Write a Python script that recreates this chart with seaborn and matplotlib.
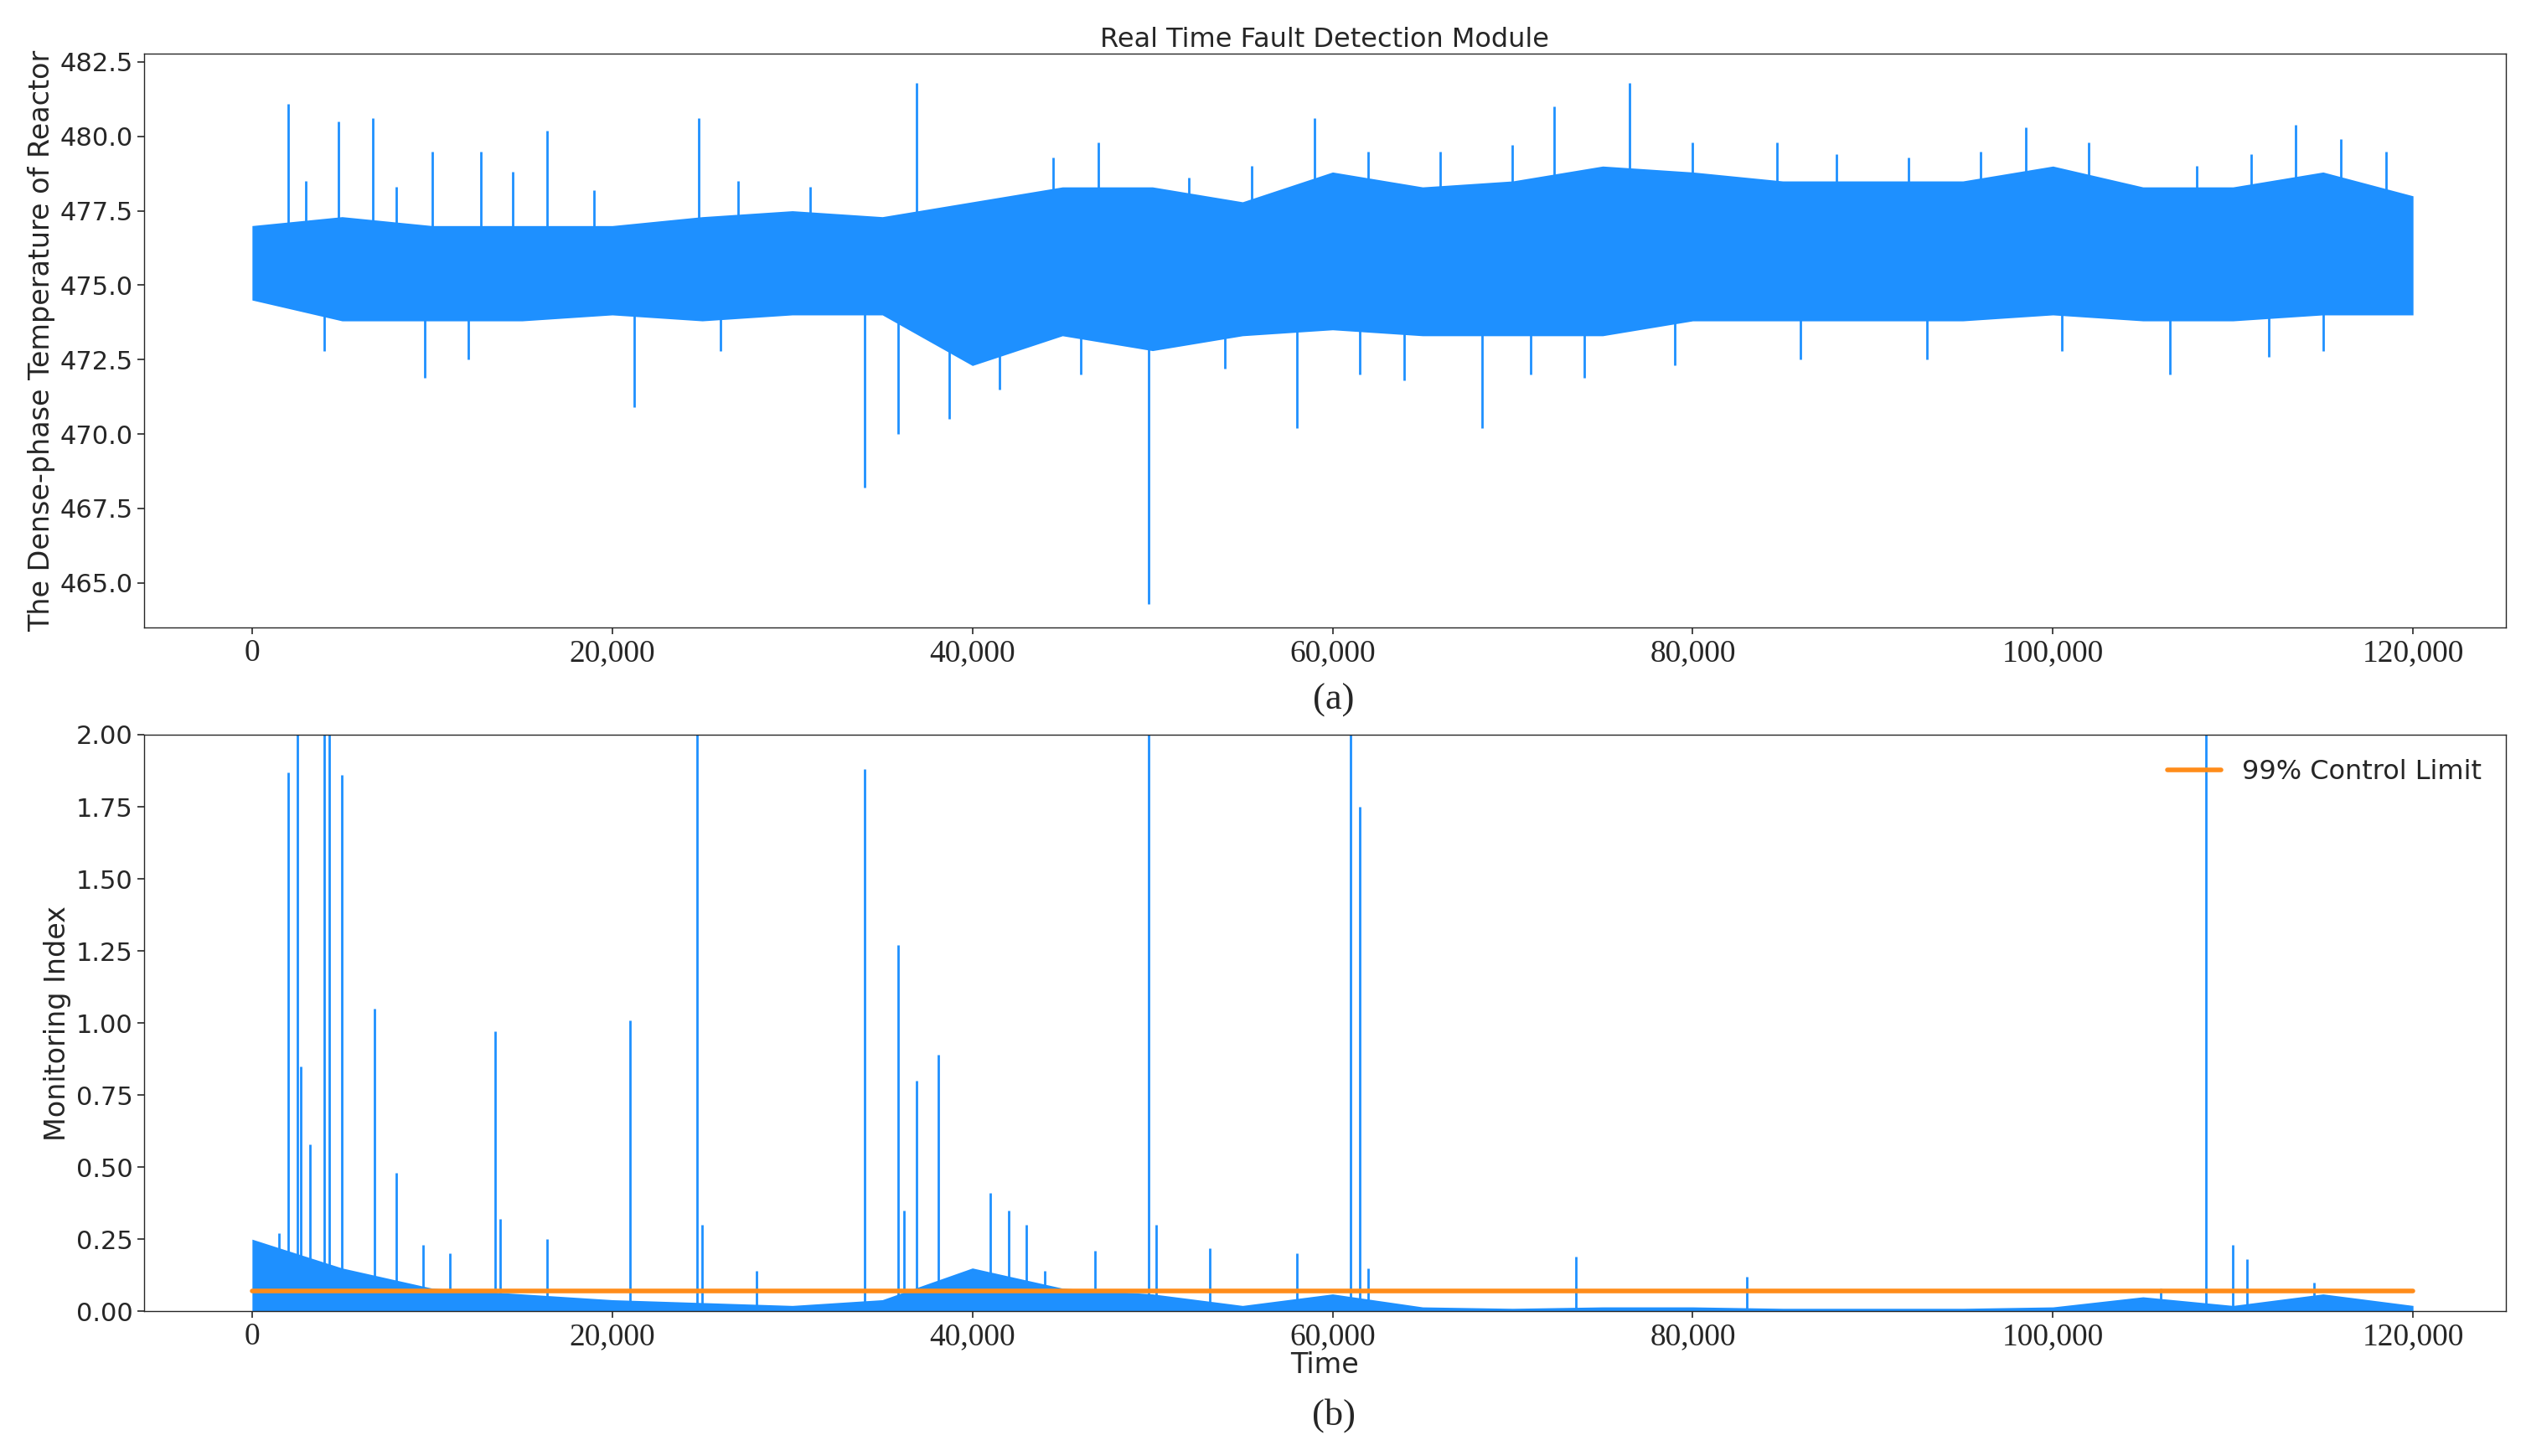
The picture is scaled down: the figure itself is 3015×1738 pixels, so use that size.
import numpy as np
import matplotlib
matplotlib.use("Agg")
import matplotlib.pyplot as plt
import seaborn as sns
from matplotlib.ticker import FuncFormatter

sns.set_style("ticks")
plt.rcParams['font.family'] = ['DejaVu Sans']

BLUE = "#1e90ff"
ORANGE = "#ff8c1a"

env_x = list(range(0, 120001, 5000))
temp_upper = [477, 477.3, 477, 477, 477, 477.3, 477.5, 477.3, 477.8, 478.3, 478.3, 477.8, 478.8,
              478.3, 478.5, 479.0, 478.8, 478.5, 478.5, 478.5, 479.0, 478.3, 478.3, 478.8, 478]
temp_lower = [474.5, 473.8, 473.8, 473.8, 474, 473.8, 474, 474, 472.3, 473.3, 472.8, 473.3, 473.5,
              473.3, 473.3, 473.3, 473.8, 473.8, 473.8, 473.8, 474, 473.8, 473.8, 474, 474]
temp_spike_x = [2000, 4800, 6700, 10000, 12700, 16400, 24800, 36900, 47000, 59000, 72300, 76500,
                84700, 98500, 113500, 3000, 8000, 14500, 19000, 27000, 31000, 44500, 52000, 55500,
                62000, 66000, 70000, 80000, 88000, 92000, 96000, 102000, 108000, 111000, 116000, 118500,
                9600, 21200, 34000, 35900, 38700, 49800, 58000, 68300, 74000, 106500,
                4000, 12000, 26000, 41500, 46000, 54000, 61500, 64000, 71000, 79000, 86000, 93000, 100500, 112000, 115000]
temp_spike_v = [481.1, 480.5, 480.6, 479.5, 479.5, 480.2, 480.6, 481.8, 479.8, 480.6, 481.0, 481.8,
                479.8, 480.3, 480.4, 478.5, 478.3, 478.8, 478.2, 478.5, 478.3, 479.3, 478.6, 479.0,
                479.5, 479.5, 479.7, 479.8, 479.4, 479.3, 479.5, 479.8, 479.0, 479.4, 479.9, 479.5,
                471.9, 470.9, 468.2, 470.0, 470.5, 464.3, 470.2, 470.2, 471.9, 472.0,
                472.8, 472.5, 472.8, 471.5, 472.0, 472.2, 472.0, 471.8, 472.0, 472.3, 472.5, 472.5, 472.8, 472.6, 472.8]

idx_upper = [0.25, 0.15, 0.08, 0.06, 0.04, 0.03, 0.02, 0.04, 0.15, 0.08, 0.06, 0.02, 0.06, 0.015, 0.01,
             0.015, 0.015, 0.01, 0.01, 0.01, 0.015, 0.05, 0.02, 0.06, 0.02]
idx_spike_x = [1500, 2000, 2500, 2700, 3200, 4000, 4300, 5000, 6800, 8000, 9500, 11000, 13500, 13800,
               16400, 21000, 24700, 25000, 28000, 34000, 35900, 36200, 36900, 38100, 41000, 42000,
               43000, 44000, 46800, 49800, 50200, 53200, 58000, 61000, 61500, 62000, 73500, 83000,
               106000, 108500, 110000, 110800, 114500]
idx_spike_v = [0.27, 1.87, 2.0, 0.85, 0.58, 2.0, 2.0, 1.86, 1.05, 0.48, 0.23, 0.2, 0.97, 0.32,
               0.25, 1.01, 2.0, 0.3, 0.14, 1.88, 1.27, 0.35, 0.8, 0.89, 0.41, 0.35,
               0.3, 0.14, 0.21, 2.0, 0.3, 0.22, 0.2, 2.0, 1.75, 0.15, 0.19, 0.12,
               0.08, 2.0, 0.23, 0.18, 0.1]
control_limit = 0.07

fig = plt.figure(figsize=(30.15, 17.38), dpi=100)
ax1 = fig.add_axes([0.057, 0.569, 0.935, 0.394])
ax2 = fig.add_axes([0.057, 0.0994, 0.935, 0.396])

fmt = FuncFormatter(lambda v, p: f"{int(v):,}")
for ax in (ax1, ax2):
    ax.set_xlim(-6000, 125150)
    ax.set_xticks(range(0, 120001, 20000))
    ax.xaxis.set_major_formatter(fmt)
    ax.tick_params(labelsize=22, length=6, width=1.2)
    for lab in ax.get_xticklabels():
        lab.set_family("Liberation Serif")
        lab.set_fontsize(27)
    for s in ax.spines.values():
        s.set_linewidth(1.0)

# top
ax1.fill_between(env_x, temp_lower, temp_upper, color=BLUE, lw=0)
tmid = np.interp(temp_spike_x, env_x, [(a + b) / 2 for a, b in zip(temp_lower, temp_upper)])
ax1.vlines(temp_spike_x, tmid, temp_spike_v, color=BLUE, lw=2)
ax1.set_ylim(463.5, 482.77)
ax1.set_yticks(np.arange(465, 482.6, 2.5))
ax1.set_title("Real Time Fault Detection Module", fontsize=23, pad=6)
ax1.set_ylabel("The Dense-phase Temperature of Reactor", fontsize=24)
ax1.yaxis.set_major_formatter(FuncFormatter(lambda v, p: f"{v:.1f}"))
fig.text(0.528, 0.519, "(a)", ha="center", va="center", fontsize=32, family="Liberation Serif")

# bottom
ax2.fill_between(env_x, 0, idx_upper, color=BLUE, lw=0)
ax2.vlines(idx_spike_x, 0, idx_spike_v, color=BLUE, lw=2)
sns.lineplot(x=[0, 120000], y=[control_limit, control_limit], ax=ax2, color=ORANGE, lw=4,
             label="99% Control Limit")
ax2.set_ylim(0, 2.0)
ax2.set_yticks(np.arange(0, 2.01, 0.25))
ax2.yaxis.set_major_formatter(FuncFormatter(lambda v, p: f"{v:.2f}"))
ax2.set_ylabel("Monitoring Index", fontsize=24)
ax2.set_xlabel("Time", fontsize=24, labelpad=0)
ax2.legend(loc="upper right", frameon=False, fontsize=23)
fig.text(0.528, 0.028, "(b)", ha="center", va="center", fontsize=32, family="Liberation Serif")

fig.savefig("out.png", dpi=100)
